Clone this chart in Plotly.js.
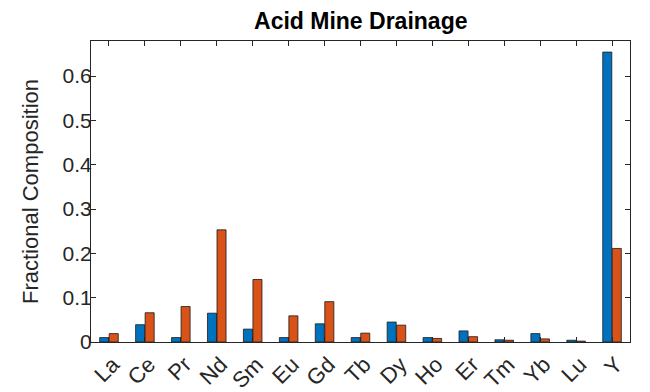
<!DOCTYPE html>
<html>
<head>
<meta charset="utf-8">
<script src="https://cdn.plot.ly/plotly-3.0.1.min.js"></script>
<style>html,body{margin:0;padding:0;background:#fff}#chart{width:650px;height:392px}</style>
</head>
<body>
<div id="chart"></div>
<script>
const elements = ["La","Ce","Pr","Nd","Sm","Eu","Gd","Tb","Dy","Ho","Er","Tm","Yb","Lu","Y"];
const seriesBlue = [0.010,0.039,0.010,0.065,0.029,0.010,0.041,0.010,0.045,0.010,0.025,0.005,0.019,0.004,0.654];
const seriesOrange = [0.019,0.066,0.080,0.253,0.141,0.059,0.091,0.020,0.038,0.008,0.012,0.004,0.007,0.002,0.211];
const yTicks = [0,0.1,0.2,0.3,0.4,0.5,0.6];
const yTickText = ["0","0.1","0.2","0.3","0.4","0.5","0.6"];

const font = "Liberation Sans, Arial, Helvetica, sans-serif";
const axisColor = "#262626";

const traces = [
  {type:"bar", x:elements, y:seriesBlue, marker:{color:"#0072BD", line:{color:"#1a1a1a", width:0.8}}, showlegend:false},
  {type:"bar", x:elements, y:seriesOrange, marker:{color:"#D95319", line:{color:"#1a1a1a", width:0.8}}, showlegend:false}
];

const layout = {
  width:650, height:392,
  margin:{l:91, r:20, t:41, b:50},
  paper_bgcolor:"#fff", plot_bgcolor:"#fff",
  barmode:"group", bargap:0.47, bargroupgap:0.05,
  font:{family:font, color:axisColor},
  title:{text:"<b>Acid Mine Drainage</b>", font:{family:font, size:23, color:"#000"}, x:0.555, xanchor:"center", y:0.946, yanchor:"middle"},
  xaxis:{
    type:"category", range:[-0.5,14.5],
    showline:true, linecolor:axisColor, linewidth:1, mirror:"allticks",
    ticks:"inside", ticklen:5, tickcolor:axisColor, tickwidth:1,
    tickangle:-45, tickfont:{size:22, color:axisColor}, ticklabelshift:4,
    showgrid:false, zeroline:false
  },
  yaxis:{
    range:[0,0.679],
    tickvals:yTicks, ticktext:yTickText,
    showline:true, linecolor:axisColor, linewidth:1, mirror:"allticks",
    ticks:"inside", ticklen:5, tickcolor:axisColor, tickwidth:1,
    tickfont:{size:21, color:axisColor}, ticklabelstandoff:-6,
    showgrid:false, zeroline:false,
    title:{text:"Fractional Composition", font:{size:22, color:axisColor}, standoff:17}
  }
};

Plotly.newPlot("chart", traces, layout, {staticPlot:true, displayModeBar:false});
</script>
</body>
</html>
